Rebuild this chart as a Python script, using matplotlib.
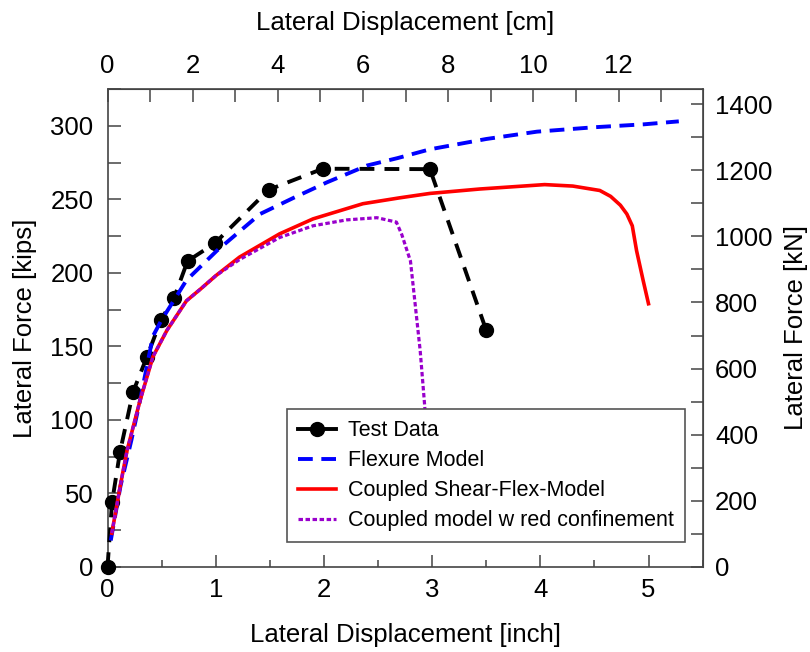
import matplotlib
matplotlib.use("Agg")
import matplotlib.pyplot as plt
from matplotlib.lines import Line2D
from matplotlib.ticker import MultipleLocator

plt.rcParams['font.family'] = ['Liberation Sans', 'DejaVu Sans']

# test data (inch, kips)
test_x = [0, 0.042, 0.115, 0.236, 0.365, 0.494, 0.615, 0.74, 0.99, 1.49, 1.99, 2.98, 3.50]
test_y = [0, 44, 78, 119, 143, 168, 183, 208, 220, 256.5, 270.8, 270.5, 161]

# flexure model
flex_x = [0.03, 0.12, 0.22, 0.30, 0.42, 0.50, 0.62, 0.73, 1.01, 1.41, 1.72, 2.03,
          2.40, 2.68, 2.98, 3.5, 3.97, 4.5, 4.96, 5.28]
flex_y = [18, 55, 86, 113, 157, 168, 182, 195, 215, 240, 251, 261.6,
          273, 278, 284, 291, 296, 299, 301, 303]

# coupled shear-flex model
coup_x = [0.04, 0.12, 0.18, 0.30, 0.42, 0.55, 0.73, 0.86, 1.0, 1.22, 1.59, 1.9,
          2.36, 2.7, 2.98, 3.44, 4.04, 4.3, 4.55, 4.65, 4.74, 4.8, 4.85, 4.89,
          4.95, 5.0]
coup_y = [23, 56, 79, 113, 143, 161, 181, 189, 198, 210.7, 226.5, 236.7,
          247, 251, 254, 257, 260, 259, 256, 252, 246, 240, 232, 215,
          195, 179]

# coupled model with reduced confinement
conf_x = [0.04, 0.12, 0.18, 0.30, 0.42, 0.55, 0.73, 0.86, 1.0, 1.22, 1.59, 1.9,
          2.21, 2.49, 2.67, 2.72, 2.80, 2.84, 2.89, 2.93, 2.97, 3.0]
conf_y = [23, 56, 79, 113, 143, 161, 181, 189, 198, 209, 224, 232,
          236, 237.5, 234.5, 226, 208, 181, 147, 111, 70, 35]

KN_PER_KIP = 4.448
CM_PER_IN = 2.54
spine_col = '#444444'

fig = plt.figure(figsize=(8.1, 6.52), dpi=100)
ax = fig.add_axes([107.5 / 810, 85 / 652, 595.1 / 810, 478 / 652])

ax.plot(test_x, test_y, color='black', lw=2.8, dashes=(3.8, 2.6),
        marker='o', ms=10, clip_on=False, zorder=3)
ax.plot(flex_x, flex_y, color='#0000ff', lw=2.8, dashes=(3.8, 2.2), zorder=3)
ax.plot(coup_x, coup_y, color='#ff0000', lw=2.6, zorder=3)
ax.plot(conf_x, conf_y, color='#9900cc', lw=2.3, dashes=(1.4, 0.8), zorder=3)

ax.set_xlim(0, 5.5)
ax.set_ylim(0, 325)
ax.xaxis.set_major_locator(MultipleLocator(1))
ax.xaxis.set_minor_locator(MultipleLocator(0.5))
ax.yaxis.set_major_locator(MultipleLocator(50))
ax.yaxis.set_minor_locator(MultipleLocator(25))
ax.tick_params(which='both', direction='in', width=1.1, color=spine_col,
               labelsize=18.5)
ax.tick_params(axis='x', which='major', length=9, pad=8)
ax.tick_params(axis='x', which='minor', length=5)
ax.tick_params(axis='y', which='both', length=9, pad=10)
for s in ax.spines.values():
    s.set_color(spine_col)
    s.set_linewidth(1.2)

ax.set_xlabel('Lateral Displacement [inch]', fontsize=18.5, labelpad=15)
ax.set_ylabel('Lateral Force [kips]', fontsize=18.5, labelpad=10)

top = ax.secondary_xaxis('top', functions=(lambda x: x * CM_PER_IN,
                                           lambda x: x / CM_PER_IN))
top.xaxis.set_major_locator(MultipleLocator(2))
top.xaxis.set_minor_locator(MultipleLocator(1))
top.tick_params(which='both', direction='in', length=9, width=1.1,
                color=spine_col, labelsize=18.5, pad=8)
top.set_xlabel('Lateral Displacement [cm]', fontsize=18.5, labelpad=17)
top.spines['top'].set_color(spine_col)

right = ax.secondary_yaxis('right', functions=(lambda y: y * KN_PER_KIP,
                                               lambda y: y / KN_PER_KIP))
right.yaxis.set_major_locator(MultipleLocator(200))
right.yaxis.set_minor_locator(MultipleLocator(100))
right.tick_params(which='both', direction='in', length=9, width=1.1,
                  color=spine_col, labelsize=18.5, pad=9)
right.set_ylabel('Lateral Force [kN]', fontsize=18.5, labelpad=8)
right.spines['right'].set_color(spine_col)

handles = [
    Line2D([], [], color='black', lw=2.8, marker='o', ms=10),
    Line2D([], [], color='#0000ff', lw=2.8, dashes=(3.8, 2.2)),
    Line2D([], [], color='#ff0000', lw=2.6),
    Line2D([], [], color='#9900cc', lw=2.3, dashes=(1.4, 0.8)),
]
labels = ['Test Data', 'Flexure Model', 'Coupled Shear-Flex-Model',
          'Coupled model w red confinement']
leg = ax.legend(handles, labels, loc='lower right',
                bbox_to_anchor=(0.970, 0.052), borderaxespad=0,
                fontsize=15.5, handlelength=1.8, handletextpad=0.55,
                labelspacing=0.42, borderpad=0.5, fancybox=False,
                framealpha=1, edgecolor='#555555')
leg.get_frame().set_linewidth(1.2)
leg.set_zorder(5)

fig.savefig('out.png', dpi=100)
